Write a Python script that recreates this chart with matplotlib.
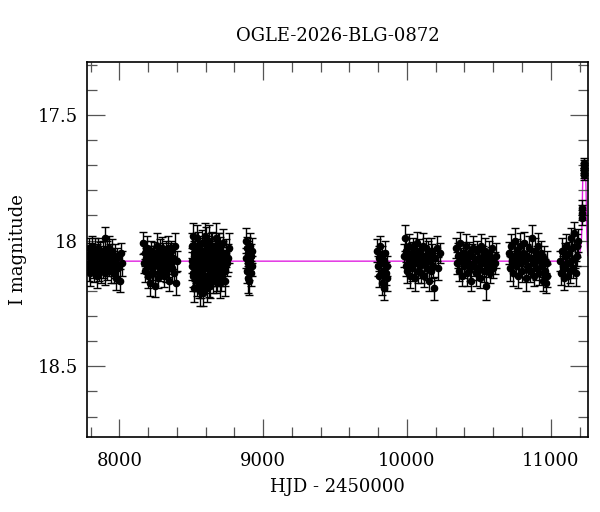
import matplotlib
matplotlib.use("Agg")
import matplotlib.pyplot as plt
from matplotlib.ticker import MultipleLocator, FuncFormatter

# --- photometry, one block per observing season (HJD - 2450000, I mag, error)
t1 = [7782, 7786, 7791, 7795, 7799, 7804, 7809, 7813, 7818, 7822, 7827, 7831,
      7836, 7841, 7845, 7850, 7855, 7859, 7864, 7869, 7874, 7878, 7883, 7888,
      7893, 7897, 7902, 7907, 7912, 7917, 7921, 7926, 7931, 7936, 7941, 7946,
      7951, 7956, 7962, 7967, 7973, 7979, 7986, 7993, 8001, 8009, 8016]
m1 = [18.06, 18.11, 18.03, 18.09, 18.13, 18.05, 18.08, 18.02, 18.10, 18.07,
      18.12, 18.04, 18.09, 18.06, 18.14, 18.03, 18.08, 18.11, 18.05, 18.07,
      18.12, 18.09, 18.04, 18.10, 18.06, 18.13, 17.99, 18.08, 18.05, 18.11,
      18.07, 18.03, 18.10, 18.06, 18.12, 18.08, 18.04, 18.09, 18.13, 18.06,
      18.10, 18.15, 18.07, 18.11, 18.16, 18.05, 18.09]
e1 = [0.04, 0.05, 0.04, 0.045, 0.05, 0.04, 0.045, 0.04, 0.05, 0.04,
      0.045, 0.05, 0.04, 0.045, 0.05, 0.04, 0.04, 0.05, 0.045, 0.04,
      0.05, 0.045, 0.04, 0.05, 0.04, 0.045, 0.045, 0.04, 0.05, 0.045,
      0.04, 0.05, 0.04, 0.045, 0.05, 0.04, 0.045, 0.05, 0.04, 0.045,
      0.05, 0.045, 0.04, 0.05, 0.045, 0.04, 0.05]

t2 = [8166, 8171, 8176, 8181, 8186, 8191, 8196, 8201, 8206, 8211, 8216, 8221,
      8226, 8231, 8236, 8241, 8246, 8251, 8256, 8261, 8266, 8271, 8276, 8281,
      8286, 8291, 8296, 8301, 8306, 8311, 8316, 8321, 8326, 8331, 8336, 8341,
      8346, 8351, 8356, 8361, 8367, 8373, 8380, 8388, 8396, 8403]
m2 = [18.01, 18.09, 18.05, 18.12, 18.07, 18.03, 18.10, 18.14, 18.06, 18.08,
      18.17, 18.04, 18.11, 18.07, 18.13, 18.05, 18.09, 18.18, 18.06, 18.02,
      18.10, 18.15, 18.08, 18.04, 18.12, 18.07, 18.03, 18.11, 18.06, 18.14,
      18.09, 18.05, 18.12, 18.08, 18.03, 18.10, 18.16, 18.06, 18.09, 18.04,
      18.11, 18.07, 18.13, 18.02, 18.17, 18.08]
e2 = [0.045, 0.04, 0.05, 0.045, 0.04, 0.05, 0.045, 0.05, 0.04, 0.045,
      0.05, 0.04, 0.045, 0.05, 0.04, 0.045, 0.05, 0.045, 0.04, 0.05,
      0.045, 0.04, 0.05, 0.045, 0.04, 0.05, 0.045, 0.04, 0.05, 0.045,
      0.04, 0.05, 0.045, 0.04, 0.05, 0.045, 0.04, 0.05, 0.045, 0.04,
      0.05, 0.045, 0.04, 0.05, 0.045, 0.04]

t3 = [8502, 8506, 8510, 8514, 8518, 8522, 8526, 8530, 8534, 8538, 8542, 8546,
      8550, 8554, 8558, 8562, 8566, 8570, 8574, 8578, 8582, 8586, 8590, 8594,
      8598, 8602, 8606, 8610, 8614, 8618, 8622, 8626, 8630, 8634, 8638, 8642,
      8646, 8650, 8654, 8658, 8662, 8666, 8670, 8674, 8678, 8682, 8686, 8690,
      8694, 8698, 8702, 8706, 8710, 8715, 8720, 8726, 8732, 8740, 8750, 8762]
m3 = [18.02, 18.10, 17.98, 18.14, 18.06, 18.19, 18.04, 18.11, 18.08, 17.99,
      18.16, 18.07, 18.12, 18.03, 18.20, 18.09, 18.05, 18.17, 18.01, 18.13,
      18.21, 18.07, 18.10, 17.98, 18.15, 18.06, 18.19, 18.03, 18.11, 18.08,
      18.14, 18.00, 18.18, 18.05, 18.12, 18.09, 18.02, 18.16, 18.07, 18.11,
      18.04, 18.13, 17.99, 18.09, 18.15, 18.06, 18.02, 18.12, 18.08, 18.17,
      18.04, 18.10, 18.14, 18.06, 18.01, 18.11, 18.16, 18.05, 18.09, 18.03]
e3 = [0.05, 0.055, 0.05, 0.06, 0.05, 0.055, 0.05, 0.06, 0.055, 0.05,
      0.06, 0.05, 0.055, 0.05, 0.06, 0.055, 0.05, 0.06, 0.05, 0.055,
      0.05, 0.06, 0.055, 0.05, 0.06, 0.05, 0.055, 0.05, 0.06, 0.055,
      0.05, 0.06, 0.05, 0.055, 0.05, 0.06, 0.055, 0.05, 0.06, 0.05,
      0.055, 0.05, 0.06, 0.055, 0.05, 0.06, 0.05, 0.055, 0.05, 0.06,
      0.055, 0.05, 0.06, 0.05, 0.055, 0.05, 0.06, 0.055, 0.05, 0.06]

# second night-block of the densest season
t3c = [8504, 8512, 8520, 8528, 8536, 8544, 8552, 8560, 8568, 8576, 8584,
       8592, 8600, 8608, 8616, 8624, 8632, 8640, 8648, 8656, 8664, 8672,
       8680, 8688, 8696, 8704, 8712, 8724, 8738, 8756]
m3c = [18.08, 18.13, 18.05, 18.10, 18.15, 18.02, 18.18, 18.07, 18.12, 18.04,
       18.09, 18.14, 18.00, 18.11, 18.06, 18.17, 18.08, 18.03, 18.13, 18.10,
       18.05, 18.15, 18.07, 18.11, 18.03, 18.13, 18.08, 18.05, 18.12, 18.07]
e3c = [0.05, 0.055, 0.05, 0.06, 0.05, 0.055, 0.05, 0.06, 0.055, 0.05,
       0.06, 0.05, 0.055, 0.05, 0.06, 0.055, 0.05, 0.06, 0.05, 0.055,
       0.05, 0.06, 0.055, 0.05, 0.06, 0.05, 0.055, 0.05, 0.06, 0.055]

t3b = [8880, 8883, 8886, 8889, 8892, 8895, 8898, 8901, 8904, 8907, 8910, 8913,
       8916, 8919, 8923]
m3b = [18.00, 18.07, 18.12, 18.03, 18.15, 18.09, 18.05, 18.11, 18.16, 18.02,
       18.08, 18.13, 18.06, 18.10, 18.04]
e3b = [0.05, 0.04, 0.05, 0.045, 0.06, 0.04, 0.05, 0.045, 0.055, 0.05,
       0.04, 0.05, 0.045, 0.04, 0.05]

t4 = [9792, 9798, 9803, 9808, 9813, 9818, 9823, 9828, 9833, 9838, 9843, 9848,
      9853, 9858, 9864]
m4 = [18.04, 18.10, 18.07, 18.14, 18.02, 18.09, 18.17, 18.06, 18.12, 18.19,
      18.08, 18.05, 18.13, 18.10, 18.15]
e4 = [0.045, 0.04, 0.05, 0.045, 0.04, 0.05, 0.045, 0.04, 0.05, 0.045,
      0.04, 0.05, 0.045, 0.04, 0.05]

t5 = [9978, 9984, 9990, 9996, 10002, 10008, 10014, 10020, 10026, 10032,
      10038, 10044, 10050, 10056, 10062, 10068, 10074, 10080, 10086, 10092,
      10098, 10104, 10110, 10116, 10122, 10128, 10134, 10140, 10146, 10152,
      10158, 10164, 10170, 10176, 10182, 10188, 10196, 10206, 10218, 10232]
m5 = [18.06, 17.99, 18.10, 18.04, 18.12, 18.07, 18.02, 18.14, 18.08, 18.05,
      18.11, 18.03, 18.09, 18.15, 18.06, 18.01, 18.12, 18.08, 18.04, 18.10,
      18.13, 18.06, 18.02, 18.09, 18.14, 18.07, 18.03, 18.11, 18.05, 18.16,
      18.08, 18.04, 18.12, 18.06, 18.10, 18.19, 18.07, 18.03, 18.11, 18.05]
e5 = [0.045, 0.05, 0.04, 0.045, 0.05, 0.04, 0.045, 0.05, 0.04, 0.045,
      0.05, 0.04, 0.045, 0.05, 0.04, 0.045, 0.05, 0.04, 0.045, 0.05,
      0.04, 0.045, 0.05, 0.04, 0.045, 0.05, 0.04, 0.045, 0.05, 0.04,
      0.045, 0.05, 0.04, 0.045, 0.05, 0.045, 0.04, 0.05, 0.045, 0.04]

t6 = [10342, 10349, 10356, 10363, 10370, 10377, 10384, 10391, 10398, 10405,
      10412, 10419, 10426, 10433, 10440, 10447, 10454, 10461, 10468, 10475,
      10482, 10489, 10496, 10503, 10510, 10517, 10524, 10531, 10538, 10545,
      10552, 10559, 10566, 10573, 10580, 10587, 10594, 10601, 10610, 10622]
m6 = [18.03, 18.09, 18.06, 18.12, 18.01, 18.08, 18.14, 18.05, 18.10, 18.07,
      18.02, 18.13, 18.09, 18.05, 18.11, 18.16, 18.06, 18.03, 18.10, 18.08,
      18.13, 18.04, 18.11, 18.07, 18.15, 18.02, 18.09, 18.06, 18.12, 18.04,
      18.18, 18.08, 18.10, 18.05, 18.13, 18.07, 18.03, 18.11, 18.09, 18.06]
e6 = [0.04, 0.045, 0.05, 0.04, 0.045, 0.05, 0.04, 0.045, 0.05, 0.04,
      0.045, 0.05, 0.04, 0.045, 0.05, 0.04, 0.045, 0.05, 0.04, 0.045,
      0.05, 0.04, 0.045, 0.05, 0.04, 0.045, 0.05, 0.04, 0.045, 0.05,
      0.055, 0.04, 0.045, 0.05, 0.04, 0.045, 0.05, 0.04, 0.045, 0.05]

t7 = [10708, 10715, 10722, 10729, 10736, 10743, 10750, 10757, 10764, 10771,
      10778, 10785, 10792, 10799, 10806, 10813, 10820, 10827, 10834, 10841,
      10848, 10855, 10862, 10869, 10876, 10883, 10890, 10897, 10904, 10911,
      10918, 10925, 10932, 10939, 10946, 10953, 10960, 10966, 10971, 10976]
m7 = [18.05, 18.11, 18.02, 18.08, 18.13, 18.06, 18.00, 18.10, 18.04, 18.14,
      18.07, 18.02, 18.09, 18.12, 18.05, 18.01, 18.08, 18.15, 18.06, 18.10,
      18.03, 18.12, 18.07, 17.99, 18.09, 18.14, 18.04, 18.11, 18.06, 18.02,
      18.13, 18.08, 18.05, 18.10, 18.16, 18.07, 18.12, 18.17, 18.09, 18.14]
e7 = [0.045, 0.05, 0.045, 0.04, 0.05, 0.045, 0.05, 0.04, 0.045, 0.05,
      0.045, 0.05, 0.04, 0.045, 0.05, 0.045, 0.04, 0.05, 0.045, 0.04,
      0.05, 0.045, 0.04, 0.05, 0.045, 0.04, 0.05, 0.045, 0.04, 0.05,
      0.045, 0.04, 0.05, 0.045, 0.04, 0.05, 0.045, 0.04, 0.05, 0.045]

t8 = [11066, 11072, 11078, 11084, 11090, 11096, 11102, 11108, 11114, 11120,
      11126, 11132, 11138, 11144, 11150, 11156, 11162, 11168, 11174, 11180,
      11186, 11192]
m8 = [18.08, 18.13, 18.04, 18.10, 18.15, 18.06, 18.11, 18.02, 18.09, 18.14,
      18.05, 18.12, 17.99, 18.08, 18.03, 18.11, 17.97, 18.07, 18.13, 18.02,
      18.06, 18.00]
e8 = [0.04, 0.045, 0.05, 0.04, 0.045, 0.05, 0.04, 0.045, 0.05, 0.04,
      0.045, 0.05, 0.04, 0.045, 0.05, 0.04, 0.045, 0.04, 0.05, 0.045,
      0.04, 0.045]

# rising part of the event
t_ev = [11216, 11218, 11220, 11228, 11229, 11230, 11231, 11232, 11233]
m_ev = [17.91, 17.87, 17.89, 17.73, 17.69, 17.71, 17.74, 17.70, 17.72]
e_ev = [0.03, 0.03, 0.03, 0.02, 0.02, 0.02, 0.02, 0.02, 0.02]

# model curve
model_t = [7777, 11120, 11170, 11190, 11200, 11208, 11214, 11218, 11221,
           11224, 11230, 11238, 11244, 11247, 11249, 11252, 11258]
model_m = [18.082, 18.082, 18.078, 18.07, 18.055, 18.03, 17.99, 17.92, 17.80,
           17.72, 17.70, 17.71, 17.76, 17.84, 17.93, 18.00, 18.06]

seasons = [(t1, m1, e1), (t2, m2, e2), (t3, m3, e3), (t3c, m3c, e3c),
           (t3b, m3b, e3b), (t4, m4, e4), (t5, m5, e5), (t6, m6, e6),
           (t7, m7, e7), (t8, m8, e8), (t_ev, m_ev, e_ev)]

plt.rcParams["font.family"] = ["DejaVu Serif"]

fig = plt.figure(figsize=(6, 5.12), dpi=100)
ax = fig.add_axes([0.1455, 0.1471, 0.834, 0.7318])

ax.plot(model_t, model_m, color="#e020e0", lw=1.0, zorder=1)

for t, m, e in seasons:
    n = min(len(t), len(m), len(e))
    ax.errorbar(t[:n], m[:n], yerr=e[:n], fmt="o", ms=4.5, color="black",
                ecolor="black", elinewidth=1.0, capsize=2.8, capthick=1.0,
                zorder=2)

ax.set_xlim(7777, 11257)
ax.set_ylim(18.78, 17.29)

ax.xaxis.set_major_locator(MultipleLocator(1000))
ax.xaxis.set_minor_locator(MultipleLocator(200))
ax.yaxis.set_major_locator(MultipleLocator(0.5))
ax.yaxis.set_minor_locator(MultipleLocator(0.1))
ax.yaxis.set_major_formatter(FuncFormatter(lambda v, p: f"{v:g}"))

ax.tick_params(which="both", direction="in", top=True, right=True,
               color="#555555", width=0.9, labelsize=13)
ax.tick_params(which="major", length=13)
ax.tick_params(which="minor", length=7)
ax.tick_params(axis="x", which="major", pad=11)
ax.tick_params(axis="y", which="major", pad=7)
for sp in ax.spines.values():
    sp.set_linewidth(1.2)

ax.set_xlabel("HJD - 2450000", fontsize=13, labelpad=6)
ax.set_ylabel("I magnitude", fontsize=13)
ax.yaxis.set_label_coords(-0.12, 0.5)
ax.set_title("OGLE-2026-BLG-0872", fontsize=13, pad=15)

fig.savefig("out.png", dpi=100)
